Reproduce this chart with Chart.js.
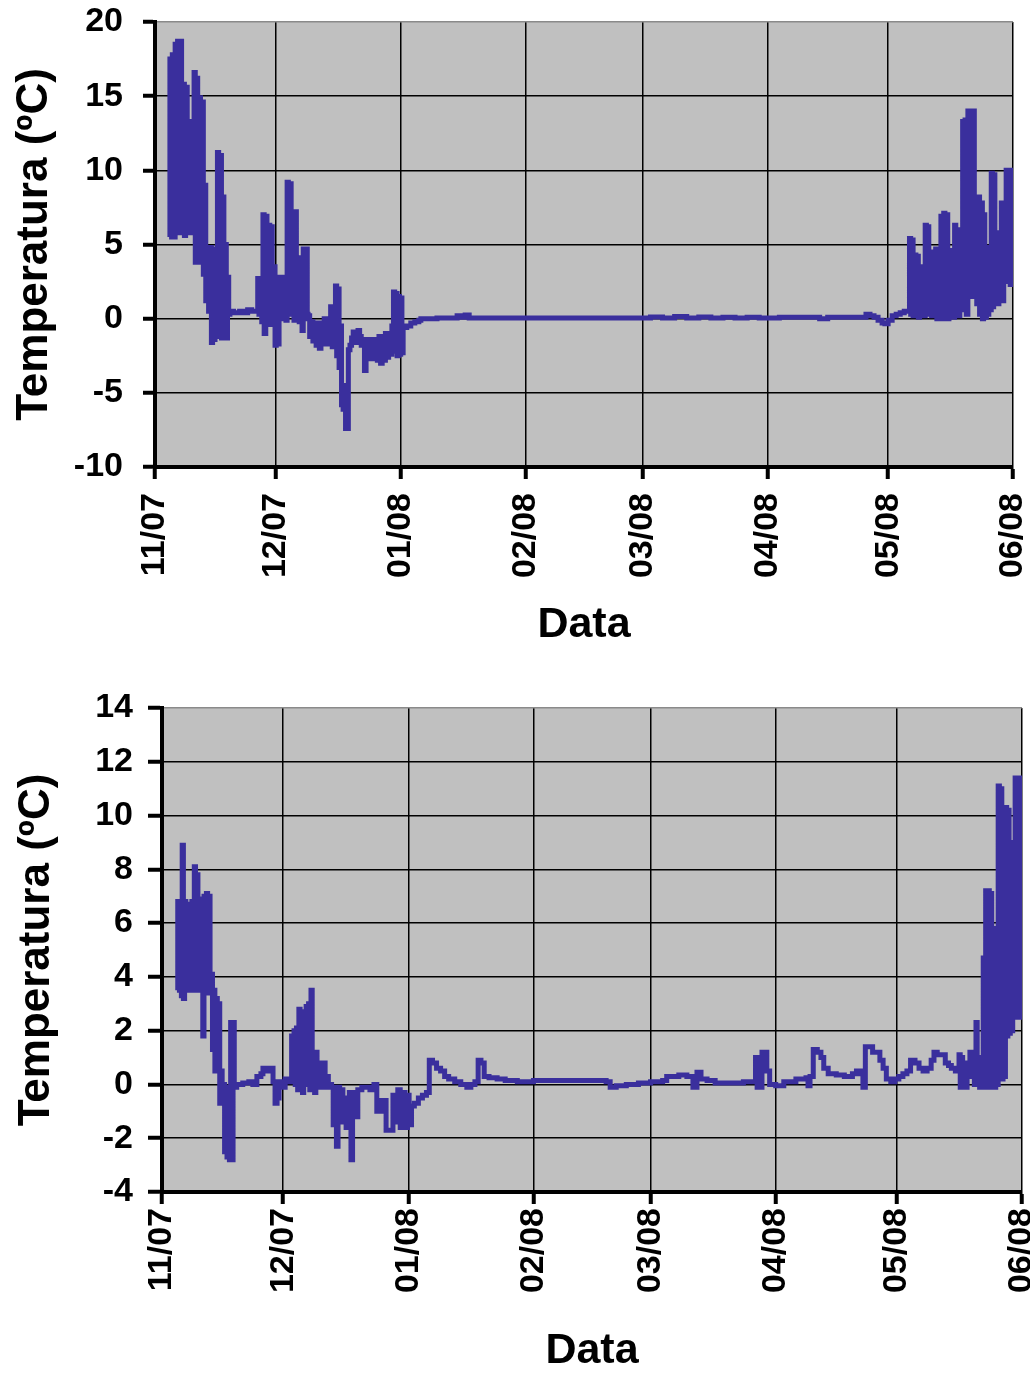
<!DOCTYPE html>
<html>
<head>
<meta charset="utf-8">
<script src="https://cdn.jsdelivr.net/npm/chart.js@4.4.1/dist/chart.umd.min.js"></script>
<style>
    body { margin: 0; background: #fff; }
    .box { position: absolute; left: 0; width: 1030px; }
</style>
</head>
<body>
<div class="box" style="top:0"><canvas id="chartTop" width="1030" height="665"></canvas></div>
<div class="box" style="top:680px"><canvas id="chartBottom" width="1030" height="693"></canvas></div>
<script>
// days counted from 1 Nov 2007
const xTickDays = [0, 30, 61, 92, 121, 152, 182, 213];
const xTickLabels = ['11/07', '12/07', '01/08', '02/08', '03/08', '04/08', '05/08', '06/08'];

const topDays = [
    3.5, 3.7, 4.0, 4.3, 4.6, 5.0, 5.3, 5.6, 6.0, 6.3, 6.6, 6.9, 7.3, 7.6, 8.0, 8.3, 8.7, 9.0, 9.3, 9.7,
    10.0, 10.3, 10.6, 11.0, 11.3, 11.6, 12.0, 12.3, 12.6, 13.0, 13.3, 13.6, 14.0, 14.3, 14.6, 14.9, 15.2, 15.5, 15.8, 16.2,
    16.5, 16.8, 17.1, 17.4, 17.7, 18.0, 18.3, 18.6, 19.5, 21.0, 22.0, 23.0, 24.0, 25.0,
    25.5, 25.8, 26.1, 26.5, 26.8, 27.1, 27.5, 27.8, 28.1, 28.5, 28.8, 29.1, 29.5, 29.8, 30.1, 30.5, 30.8, 31.1, 31.5, 31.8,
    32.1, 32.5, 32.8, 33.1, 33.5, 33.8, 34.1, 34.5, 34.8, 35.1, 35.5, 35.8, 36.1, 36.5, 36.8, 37.1, 37.5, 37.8,
    38.0, 38.4, 38.8, 39.2, 39.6, 40.0, 40.4, 40.8, 41.2, 41.6, 42.0, 42.4, 42.8, 43.2, 43.6, 44.0, 44.4, 44.8, 45.1, 45.4,
    45.7, 46.0, 46.3, 46.7, 47.0, 47.3, 47.7, 48.0, 48.4, 48.8, 49.2, 49.6, 50.0, 50.4, 50.8, 51.2, 51.6, 52.0, 52.4, 52.8,
    53.2, 53.6, 54.0, 54.4, 54.8, 55.2, 55.6, 56.0, 56.4, 56.8, 57.2, 57.6, 58.0, 58.4, 58.8, 59.2, 59.5, 59.8, 60.1, 60.4,
    60.7, 61.0, 61.3, 61.6, 62.5, 63.5, 64.5, 65.5,
    66, 70, 74, 75, 76, 77, 78, 85, 95, 105, 115, 121, 123, 126, 129, 132, 135, 138, 141, 144,
    147, 150, 155, 160, 165, 167, 172, 175.5, 176.5, 177.5, 178.5, 179.5, 180.5, 181.2, 182, 183, 184, 185, 186,
    186.6, 187.3, 187.6, 187.9, 188.2, 188.6, 188.9, 189.2, 189.5, 189.8, 190.2, 190.6, 190.9, 191.2, 191.5, 191.8, 192.1, 192.5, 192.8, 193.1,
    193.4, 193.8, 194.1, 194.4, 194.8, 195.1, 195.4, 195.8, 196.1, 196.4, 196.8, 197.1, 197.4, 197.8, 198.1, 198.5, 198.8, 199.1, 199.4, 199.8,
    200.1, 200.5, 200.8, 201.1, 201.4, 201.8, 202.1, 202.4, 202.8, 203.1, 203.4, 203.7, 204.0, 204.4, 204.7, 205.0, 205.4, 205.7, 206.0, 206.4,
    206.7, 207.0, 207.3, 207.6, 207.9, 208.2, 208.5, 208.8, 209.1, 209.5, 209.8, 210.1, 210.4, 210.7, 211.0, 211.3, 211.6, 212.0, 212.3, 212.6,
    212.9
];
const topTemps = [
    5.5, 17.5, 6.0, 17.8, 5.5, 18.5, 7.0, 18.7, 5.8, 18.7, 6.0, 15.8, 5.6, 15.6, 5.8, 13.3, 6.5, 11.3, 5.8, 16.6,
    3.8, 16.2, 4.5, 14.9, 3.8, 14.6, 3.0, 9.0, 1.2, 4.8, 0.5, 4.8, -1.6, 3.0, -1.4, 4.7, -1.2, 11.2, -1.0, 11.0,
    -1.3, 8.2, 0.2, 5.0, -1.3, 2.8, 0.3, 0.5, 0.4, 0.5, 0.4, 0.6, 0.5, 0.5,
    2.7, 0.3, 2.6, -0.2, 7.0, -1.0, 6.9, 0.5, 6.3, -0.4, 6.2, 1.5, 3.5, -1.8, 2.4, -1.7, 2.8, 0.5, 2.8, 0.0,
    2.5, -0.1, 9.2, 0.5, 9.1, 0.3, 7.2, -0.1, 7.2, 0.3, 3.8, -0.2, 4.1, -0.8, 4.7, 0.0, 4.7, 0.3,
    0.2, -1.2, -0.2, -1.5, -0.4, -1.8, -0.3, -2.0, -0.5, -1.4, 0.0, -1.7, -0.2, -1.3, 0.8, -1.9, 0.0, 2.2, -2.5, 2.0,
    -3.3, -0.5, -5.8, -6.1, -4.5, -7.4, -7.4, -2.1, -1.8, -1.3, -0.9, -1.0, -1.6, -0.8, -1.2, -1.8, -1.5, -3.5, -1.4, -2.6,
    -1.5, -2.7, -1.4, -2.1, -1.6, -2.8, -1.2, -3.0, -1.3, -2.8, -1.0, -2.6, -1.2, -2.4, -0.5, 1.8, -2.2, 1.7, -2.5, 1.5,
    -2.4, 1.4, -2.3, -0.6, -0.5, -0.3, -0.2, -0.1,
    0.0, 0.05, 0.05, 0.2, 0.1, 0.25, 0.05, 0.05, 0.05, 0.05, 0.05, 0.05, 0.12, 0.05, 0.15, 0.05, 0.12, 0.05, 0.1, 0.05,
    0.1, 0.05, 0.1, 0.1, 0.0, 0.1, 0.1, 0.1, 0.3, 0.2, 0.1, -0.1, -0.3, -0.35, -0.1, 0.2, 0.3, 0.4, 0.5,
    0.5, 5.4, 0.3, 5.3, 0.2, 4.3, 0.6, 4.2, 0.1, 3.5, 0.5, 2.5, 0.2, 6.3, 0.8, 6.2, 0.3, 4.5, 0.2, 4.0,
    0.4, 4.7, 0.0, 4.6, 0.1, 6.9, 0.0, 7.1, 0.2, 7.0, 0.0, 4.6, 0.3, 3.5, 0.1, 6.3, 0.4, 6.0, 0.2, 4.2,
    0.6, 13.3, 0.8, 13.4, 0.3, 14.0, 1.8, 13.9, 1.5, 14.0, 2.0, 6.5, 1.0, 8.2, 0.3, 7.8, 0.0, 7.0, 0.1, 4.8,
    0.3, 4.5, 0.6, 9.8, 0.8, 9.7, 1.2, 5.8, 1.0, 5.5, 1.3, 7.8, 1.2, 7.7, 2.5, 10.0, 2.7, 10.0, 2.3, 10.0,
    3.0
];

const bottomDays = [
    3.7, 3.9, 4.2, 4.5, 4.8, 5.0, 5.3, 5.6, 5.9, 6.2, 6.5, 6.8, 7.1, 7.4, 7.7, 8.0, 8.3, 8.6, 8.9, 9.2,
    9.5, 9.8, 10.1, 10.4, 10.7, 11.0, 11.3, 11.6, 11.9, 12.2, 12.5, 12.8, 13.1, 13.4, 13.7, 14.0, 14.3, 14.6, 14.9, 15.2,
    15.5, 15.8, 16.1, 16.4, 16.7, 17.0, 17.3, 17.6, 17.9, 18.5, 20, 21.5, 22.5, 23.5, 24.5, 25.0, 26.0, 26.8, 27.5, 28.0,
    28.5, 29.0, 29.8, 30.5, 31.2, 31.8, 32.1, 32.4, 32.7, 33.0, 33.3, 33.6, 33.9, 34.2, 34.5, 34.8, 35.1, 35.4, 35.7, 36.0,
    36.3, 36.6, 36.9, 37.2, 37.5, 37.8, 38.1, 38.4, 38.7, 39.0, 39.3, 39.6, 40.0, 40.4, 40.8, 41.2, 41.6, 42.0, 42.4, 42.8,
    43.2, 43.6, 44.0, 44.4, 44.8, 45.2, 45.6, 46.0, 46.4, 46.8, 47.2, 47.6, 48.0, 48.5, 49.5, 50.5, 51.5, 52.5, 53.2, 53.8,
    54.4, 55.0, 55.5, 56.2, 56.8, 57.2, 57.8, 58.4, 59.0, 59.6, 60.2, 60.8, 61.2, 61.8, 62.5, 63.5, 64.5, 65.5, 66.2, 67.0,
    68.0, 69.0, 70.0, 71.0, 72.5, 74.0, 75.5, 76.5, 77.5, 78.3, 79.0, 79.8, 81.0, 83.0, 85.0, 88.0, 92.0, 96.0, 100.0, 105.0,
    110.0, 111.0, 112.5, 115.0, 118.0, 121.0, 124.0, 125.0, 128.0, 130.0, 131.5, 132.5, 133.5, 135.0, 137.0, 140.0, 144.0, 146.5, 147.0, 147.4,
    147.8, 148.2, 148.6, 149.2, 149.8, 150.5, 152.0, 154.0, 157.0, 159.5, 160.0, 160.5, 161.3, 162.3, 163.2, 163.9, 165.0, 167.0, 169.0, 171.0,
    172.0, 173.0, 173.6, 174.2, 175.0, 176.0, 177.0, 177.8, 178.6, 179.4, 180.5, 181.5, 182.5, 183.5, 184.5, 185.4, 186.5, 187.5, 188.5, 189.5,
    190.5, 191.2, 192.0, 193.0, 194.0, 194.8, 195.5, 196.5, 197.4, 197.7, 198.0, 198.3, 198.7, 199.0, 199.4, 199.8, 200.1, 200.5, 200.9, 201.2,
    201.6, 201.9, 202.2, 202.5, 202.8, 203.1, 203.4, 203.7, 204.0, 204.3, 204.6, 204.9, 205.2, 205.5, 205.8, 206.1, 206.5, 206.8, 207.1, 207.4,
    207.7, 208.0, 208.3, 208.6, 208.9, 209.2, 209.5, 209.8, 210.1, 210.4, 210.7, 211.0, 211.3, 211.6, 211.9, 212.2, 212.5, 212.8, 213.0
];
const bottomTemps = [
    3.5, 6.8, 3.6, 6.7, 3.3, 8.9, 3.2, 6.8, 3.8, 6.7, 3.5, 6.6, 3.6, 6.8, 3.5, 8.1, 3.7, 7.8, 3.5, 6.9,
    3.6, 6.9, 1.8, 7.0, 3.5, 7.1, 3.4, 7.0, 3.6, 4.1, 1.3, 3.5, 0.5, 3.2, 0.5, 3.0, -0.7, 0.5, -0.7, 0.0,
    -2.5, -0.2, -2.7, -0.1, -2.8, 2.3, -2.8, 2.3, -0.1, 0.0, 0.05, 0.1, 0.0, 0.3, 0.4, 0.6, 0.5, 0.6, 0.1, -0.7,
    -0.5, 0.1, -0.1, 0.2, 0.1, 0.2, 1.8, 0.5, 2.0, 0.0, 2.1, -0.2, 2.8, 0.2, 2.7, -0.3, 1.5, 0.3, 2.9, 0.0,
    3.0, -0.2, 3.5, 0.3, 1.1, -0.3, 1.2, 0.0, 0.8, -0.1, 0.5, -0.1, 0.8, 0.0, 0.3, -0.1, 0.0, -0.1, -1.5, -0.2,
    -2.3, -0.1, -1.2, -0.2, -1.4, -0.5, -1.6, -1.0, -0.3, -2.8, -1.2, -0.3, -1.2, -0.2, -0.1, -0.1, -0.2, 0.0, -1.0, -0.6,
    -1.0, -0.6, -1.7, -1.7, -1.7, -0.4, -1.4, -0.2, -1.6, -0.3, -1.6, -0.4, -1.5, -0.8, -0.7, -0.5, -0.4, -0.3, 0.9, 0.8,
    0.6, 0.5, 0.3, 0.2, 0.1, 0.0, -0.1, 0.0, 0.1, 0.9, 0.8, 0.3, 0.25, 0.2, 0.15, 0.1, 0.15, 0.15, 0.15, 0.15,
    0.1, -0.1, -0.05, 0.0, 0.05, 0.1, 0.15, 0.3, 0.35, 0.3, -0.1, 0.45, 0.2, 0.15, 0.05, 0.05, 0.1, 0.1, 1.0, -0.1,
    1.0, -0.1, 1.2, 1.2, 0.5, 0.0, -0.05, 0.1, 0.2, 0.25, -0.05, 0.3, 1.3, 1.2, 1.0, 0.6, 0.4, 0.35, 0.3, 0.4,
    0.5, 0.4, -0.1, 1.4, 1.4, 1.2, 1.2, 0.9, 0.6, 0.2, 0.1, 0.2, 0.3, 0.4, 0.5, 0.9, 0.8, 0.6, 0.5, 0.6,
    0.9, 1.2, 1.1, 1.1, 0.8, 0.7, 0.6, 0.5, 1.1, -0.1, 1.0, -0.1, 0.7, -0.1, 0.8, 0.3, 1.2, 0.3, 1.2, 0.0,
    2.3, 0.0, 1.0, -0.1, 0.7, -0.1, 4.7, -0.1, 7.2, -0.1, 7.2, -0.1, 7.1, 0.0, 5.4, -0.1, 5.8, 0.0, 11.1, 0.2,
    11.0, 0.2, 4.5, 0.3, 10.3, 1.8, 10.2, 1.9, 9.0, 2.0, 9.0, 2.5, 11.4, 2.5, 11.3, 2.6, 11.4, 2.5, 11.0
];

Chart.defaults.color = '#000';
Chart.defaults.font.family = '"Liberation Sans", Arial, sans-serif';
Chart.defaults.font.weight = 'bold';

const plotBg = {
    id: 'plotBg',
    beforeDraw(chart) {
        const {ctx, chartArea: a} = chart;
        ctx.save();
        ctx.fillStyle = '#c0c0c0';
        ctx.fillRect(a.left, a.top, a.right - a.left, a.bottom - a.top);
        ctx.restore();
    }
};

const drawChart = function (id, days, temps, yMin, yMax, yStep, geo) {
    const points = days.map((d, i) => ({x: d, y: temps[i]}));
    return new Chart(document.getElementById(id), {
        type: 'line',
        data: {
            datasets: [{
                data: points,
                borderColor: '#3a2f9d',
                borderWidth: 5,
                pointRadius: 0,
                stepped: true,
                fill: false
            }]
        },
        plugins: [plotBg],
        options: {
            responsive: false,
            animation: false,
            layout: {padding: {top: geo.top, right: geo.right, left: 0, bottom: 0}},
            plugins: {legend: {display: false}, tooltip: {enabled: false}},
            scales: {
                x: {
                    type: 'linear',
                    min: 0,
                    max: 213,
                    afterBuildTicks: (scale) => {
                        scale.ticks = xTickDays.map(v => ({value: v}));
                    },
                    afterFit: (scale) => {
                        scale.height = geo.xHeight;
                        scale.paddingLeft = 0;
                        scale.paddingRight = 0;
                    },
                    ticks: {
                        autoSkip: false,
                        minRotation: 90,
                        maxRotation: 90,
                        padding: geo.xPad,
                        font: {size: 34, weight: 'bold'},
                        callback: (v, i) => xTickLabels[i]
                    },
                    grid: {color: '#000', lineWidth: 1.5, tickLength: 12, tickWidth: 4, tickColor: '#000'},
                    border: {display: true, width: 4, color: '#000'},
                    title: {
                        display: true,
                        text: 'Data',
                        font: {size: 43, weight: 'bold', lineHeight: 1},
                        padding: {top: 0, bottom: geo.xTitlePad}
                    }
                },
                y: {
                    min: yMin,
                    max: yMax,
                    afterFit: (scale) => {
                        scale.width = geo.yWidth;
                        scale.paddingTop = 0;
                        scale.paddingBottom = 0;
                    },
                    ticks: {
                        stepSize: yStep,
                        padding: geo.yPad,
                        font: {size: 34, weight: 'bold'}
                    },
                    grid: {
                        color: (c) => c.tick && c.tick.value === yMax ? '#8a8a8a' : '#000',
                        lineWidth: 1.5,
                        tickLength: geo.tickLen,
                        tickWidth: 4,
                        tickColor: '#000'
                    },
                    border: {display: true, width: 4, color: '#000'},
                    title: {
                        display: true,
                        text: 'Temperatura (ºC)',
                        font: {size: 44, weight: 'bold', lineHeight: 1},
                        padding: {top: geo.yTitlePad, bottom: 0}
                    }
                }
            }
        }
    });
}

drawChart('chartTop', topDays, topTemps, -10, 20, 5,
    {top: 22, right: 17, yWidth: 155, xHeight: 198, tickLen: 12, yPad: 20, xPad: 14, xTitlePad: 18, yTitlePad: 13});

drawChart('chartBottom', bottomDays, bottomTemps, -4, 14, 2,
    {top: 28, right: 8, yWidth: 162, xHeight: 181, tickLen: 14, yPad: 15, xPad: 4, xTitlePad: 0, yTitlePad: 15});
</script>
</body>
</html>
